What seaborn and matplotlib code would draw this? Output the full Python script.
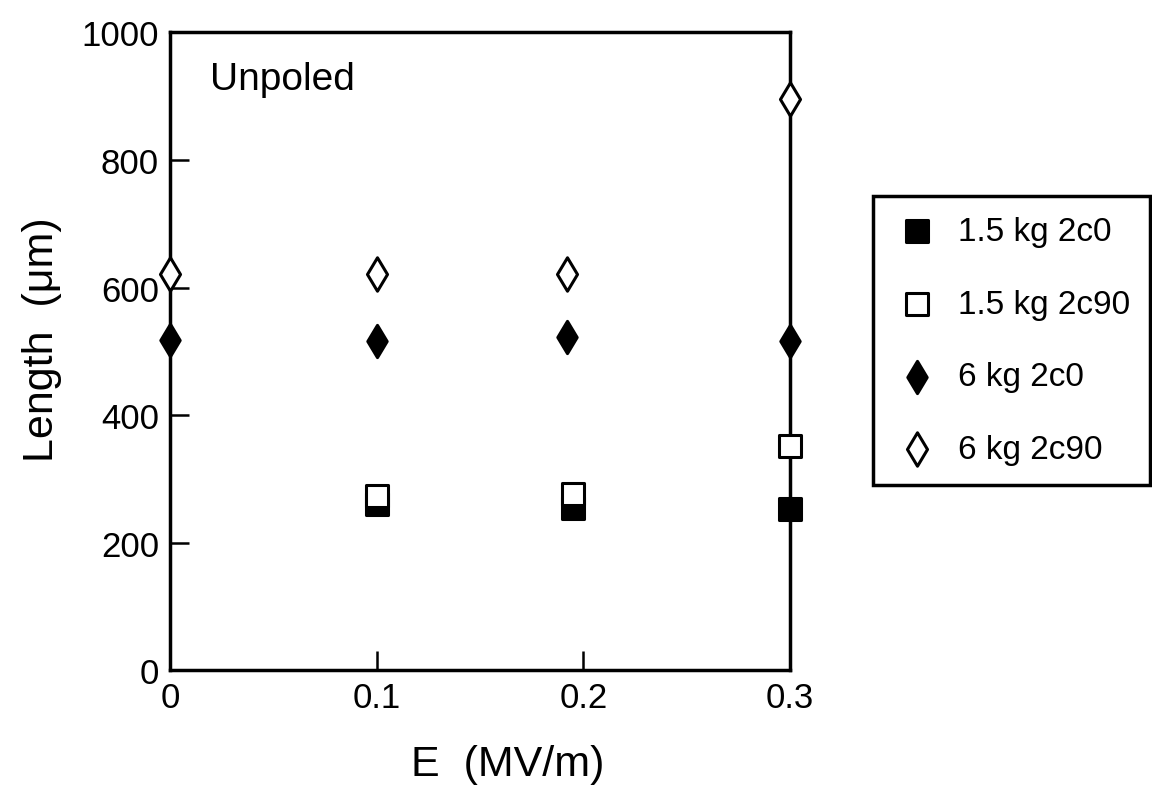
import matplotlib
matplotlib.use("Agg")
import matplotlib.pyplot as plt
import pandas as pd
import seaborn as sns

# ---- data ----
E_sq = [0.1, 0.195, 0.3]            # E (MV/m) for the 1.5 kg series
L_15_2c0 = [261, 255, 253]          # 1.5 kg 2c0 (filled square)
L_15_2c90 = [273, 277, 352]         # 1.5 kg 2c90 (open square)
E_dm = [0.0, 0.1, 0.192, 0.3]       # E (MV/m) for the 6 kg series
L_6_2c0 = [518, 517, 523, 516]      # 6 kg 2c0 (filled diamond)
L_6_2c90 = [622, 622, 621, 895]     # 6 kg 2c90 (open diamond)
series_labels = ["1.5 kg 2c0", "1.5 kg 2c90", "6 kg 2c0", "6 kg 2c90"]
x_ticks = [0, 0.1, 0.2, 0.3]
x_ticklabels = ["0", "0.1", "0.2", "0.3"]
y_ticks = [0, 200, 400, 600, 800, 1000]
y_ticklabels = ["0", "200", "400", "600", "800", "1000"]

sns.set_theme(style="ticks")
plt.rcParams['font.family'] = ['Liberation Sans', 'DejaVu Sans']
plt.rcParams['text.color'] = 'black'

fig = plt.figure(figsize=(11.52, 8.04), dpi=100)
ax = fig.add_axes([0.1476, 0.165, 0.5382, 0.7935])

specs = [
    (E_sq, L_15_2c0, "s", "black", 260),
    (E_sq, L_15_2c90, "s", "white", 260),
    (E_dm, L_6_2c0, "d", "black", 270),
    (E_dm, L_6_2c90, "d", "white", 290),
]
for (xs, ys, mk, fc, size), lab in zip(specs, series_labels):
    df = pd.DataFrame({"E": xs, "L": ys})
    sns.scatterplot(data=df, x="E", y="L", marker=mk, s=size, color=fc,
                    edgecolor="black", linewidth=2.2, label=lab, ax=ax,
                    clip_on=False, zorder=3, legend=False)

ax.set_xlim(0, 0.3)
ax.set_ylim(0, 1000)
ax.set_xticks(x_ticks)
ax.set_xticklabels(x_ticklabels)
ax.set_yticks(y_ticks)
ax.set_yticklabels(y_ticklabels)
ax.tick_params(direction="in", length=14, width=1.8, labelsize=25, pad=8,
               colors="black", top=False, right=False)
for sp in ax.spines.values():
    sp.set_linewidth(2.5)
    sp.set_color("black")

ax.set_xlabel("E  (MV/m)", fontsize=31, color="black")
ax.set_ylabel("Length  (\u03bcm)", fontsize=31, color="black")
ax.xaxis.set_label_coords(0.544, -0.116)
ax.yaxis.set_label_coords(-0.174, 0.52)

ax.text(0.065, 0.955, "Unpoled", transform=ax.transAxes, fontsize=28,
        va="top", ha="left", color="black")

handles, labels = ax.get_legend_handles_labels()
leg = fig.legend(handles, labels, loc="upper left",
                 bbox_to_anchor=(0.758, 0.755), bbox_transform=fig.transFigure,
                 borderaxespad=0, fontsize=24, frameon=True, fancybox=False,
                 framealpha=1, edgecolor="black", labelspacing=1.25,
                 handlelength=1.4, handletextpad=0.55, borderpad=0.6,
                 scatterpoints=1, labelcolor="black")
leg.get_frame().set_linewidth(2.5)

fig.savefig("out.png", dpi=100, facecolor="white")
